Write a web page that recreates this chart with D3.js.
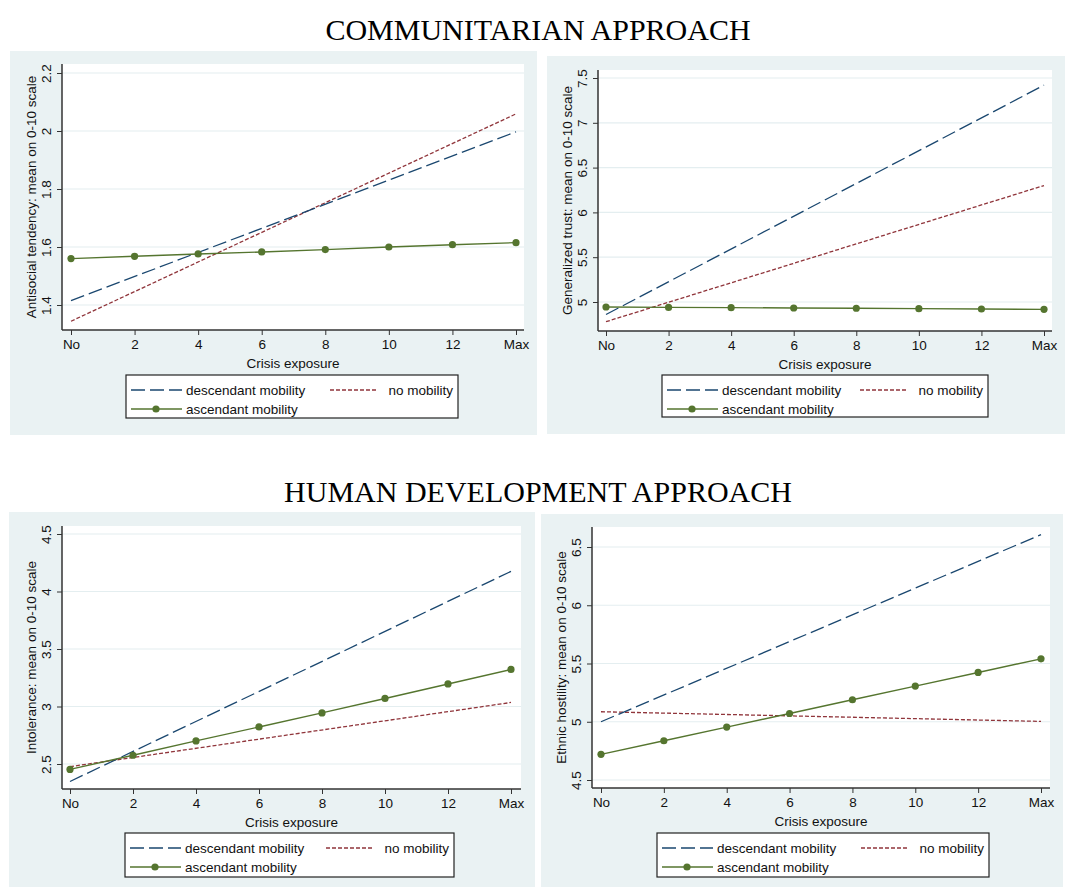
<!DOCTYPE html>
<html>
<head>
<meta charset="utf-8">
<script src="https://cdn.jsdelivr.net/npm/d3@7"></script>
<style>
  body { margin: 0; background: #fff; }
  svg text { font-family: "Liberation Sans", Arial, sans-serif; }
</style>
</head>
<body>
<div id="chart"></div>
<script>
// x axis: crisis exposure (No = 0, Max = 14)
const xValues = [0, 2, 4, 6, 8, 10, 12, 14];
const xTickLabels = ["No", "2", "4", "6", "8", "10", "12", "Max"];

const seriesNames = ["descendant mobility", "no mobility", "ascendant mobility"];

// top-left: antisocial tendency
const antisocialDesc = [1.415, 1.997];
const antisocialNone = [1.344, 2.059];
const antisocialAsc = [1.560, 1.568, 1.576, 1.583, 1.591, 1.600, 1.608, 1.615];
const antisocialTicks = [1.4, 1.6, 1.8, 2.0, 2.2];

// top-right: generalized trust
const trustDesc = [4.86, 7.42];
const trustNone = [4.78, 6.30];
const trustAsc = [4.944, 4.940, 4.937, 4.933, 4.930, 4.926, 4.922, 4.918];
const trustTicks = [5, 5.5, 6, 6.5, 7, 7.5];

// bottom-left: intolerance
const intolDesc = [2.348, 4.175];
const intolNone = [2.477, 3.035];
const intolAsc = [2.453, 2.576, 2.701, 2.822, 2.944, 3.070, 3.196, 3.322];
const intolTicks = [2.5, 3, 3.5, 4, 4.5];

// bottom-right: ethnic hostility
const ethnicDesc = [5.00, 6.606];
const ethnicNone = [5.086, 5.003];
const ethnicAsc = [4.720, 4.837, 4.954, 5.071, 5.189, 5.306, 5.423, 5.540];
const ethnicTicks = [4.5, 5, 5.5, 6, 6.5];

const colors = { desc: "#1a476f", none: "#90353b", asc: "#55752f" };
const fs = "13.5px";

const panels = [
  { title: "Antisocial tendency: mean on 0-10 scale", desc: antisocialDesc, none: antisocialNone, asc: antisocialAsc, ticks: antisocialTicks,
    bg: [10, 51, 537, 435], plot: [62, 64, 524, 330], xr: [71, 516], yAnchor: [1.4, 2.2], yr: [305, 73], legend: [126, 375, 458, 418] },
  { title: "Generalized trust: mean on 0-10 scale", desc: trustDesc, none: trustNone, asc: trustAsc, ticks: trustTicks,
    bg: [547, 56, 1065, 434], plot: [598, 70, 1052, 331], xr: [606, 1044], yAnchor: [5, 7.5], yr: [302, 78], legend: [662, 375, 988, 417] },
  { title: "Intolerance: mean on 0-10 scale", desc: intolDesc, none: intolNone, asc: intolAsc, ticks: intolTicks,
    bg: [9, 512, 535, 887], plot: [62, 526, 521, 789], xr: [70, 511], yAnchor: [2.5, 4.5], yr: [764, 534], legend: [125, 833, 454, 877] },
  { title: "Ethnic hostility: mean on 0-10 scale", desc: ethnicDesc, none: ethnicNone, asc: ethnicAsc, ticks: ethnicTicks,
    bg: [541, 514, 1063, 887], plot: [592, 527, 1050, 788], xr: [601, 1041], yAnchor: [4.5, 6.5], yr: [780, 547], legend: [657, 833, 989, 877] }
];

const svg = d3.select("#chart").append("svg")
  .attr("width", 1069)
  .attr("height", 888);

// section titles
svg.append("text")
  .attr("x", 538).attr("y", 40)
  .attr("text-anchor", "middle")
  .style("font-family", "'Liberation Serif', 'Times New Roman', serif")
  .style("font-size", "30px")
  .text("COMMUNITARIAN APPROACH");

svg.append("text")
  .attr("x", 538).attr("y", 502)
  .attr("text-anchor", "middle")
  .style("font-family", "'Liberation Serif', 'Times New Roman', serif")
  .style("font-size", "30px")
  .text("HUMAN DEVELOPMENT APPROACH");

panels.forEach(p => {
  const [bx0, by0, bx1, by1] = p.bg;
  const [px0, py0, px1, py1] = p.plot;

  svg.append("rect")
    .attr("x", bx0).attr("y", by0)
    .attr("width", bx1 - bx0).attr("height", by1 - by0)
    .attr("fill", "#eaf2f3");

  svg.append("rect")
    .attr("x", px0).attr("y", py0)
    .attr("width", px1 - px0).attr("height", py1 - py0)
    .attr("fill", "#fff");

  const x = d3.scaleLinear().domain([0, 14]).range(p.xr);
  const y = d3.scaleLinear().domain(p.yAnchor).range(p.yr);

  // grid lines
  svg.append("g")
    .selectAll("line")
    .data(p.ticks)
    .join("line")
    .attr("x1", px0).attr("x2", px1)
    .attr("y1", d => y(d)).attr("y2", d => y(d))
    .attr("stroke", "#e4eef0")
    .attr("stroke-width", 1.2);

  // x axis
  const gx = svg.append("g")
    .attr("transform", `translate(0,${py1})`)
    .call(d3.axisBottom(x)
      .tickValues(xValues)
      .tickFormat((d, i) => xTickLabels[i])
      .tickSize(5)
      .tickSizeOuter(0));
  gx.select(".domain").attr("d", `M${px0},0H${px1}`).attr("stroke", "#333").attr("stroke-width", 1.5);
  gx.selectAll(".tick line").attr("stroke", "#333");
  gx.selectAll(".tick text")
    .attr("y", 9)
    .style("font-family", "'Liberation Sans', Arial, sans-serif")
    .style("font-size", fs)
    .attr("fill", "#111");

  svg.append("text")
    .attr("x", (px0 + px1) / 2)
    .attr("y", py1 + 38)
    .attr("text-anchor", "middle")
    .style("font-size", fs)
    .attr("fill", "#111")
    .text("Crisis exposure");

  // y axis
  const gy = svg.append("g")
    .attr("transform", `translate(${px0},0)`)
    .call(d3.axisLeft(y)
      .tickValues(p.ticks)
      .tickFormat(d3.format("~g"))
      .tickSize(5)
      .tickSizeOuter(0));
  gy.select(".domain").attr("d", `M0,${py0}V${py1}`).attr("stroke", "#333").attr("stroke-width", 1.5);
  gy.selectAll(".tick line").attr("stroke", "#333");
  gy.selectAll(".tick text")
    .attr("x", null).attr("dy", null)
    .attr("text-anchor", "middle")
    .attr("transform", "translate(-11,0) rotate(-90)")
    .style("font-family", "'Liberation Sans', Arial, sans-serif")
    .style("font-size", fs)
    .attr("fill", "#111");

  svg.append("text")
    .attr("transform", `translate(${px0 - 26},${(py0 + py1) / 2}) rotate(-90)`)
    .attr("text-anchor", "middle")
    .style("font-size", fs)
    .attr("fill", "#111")
    .text(p.title);

  // lines
  const line = d3.line().x(d => x(d[0])).y(d => y(d[1]));
  const g = svg.append("g").attr("fill", "none");

  g.append("path")
    .attr("d", line([[0, p.none[0]], [14, p.none[1]]]))
    .attr("stroke", colors.none)
    .attr("stroke-width", 1.3)
    .attr("stroke-dasharray", "4,2");

  g.append("path")
    .attr("d", line([[0, p.desc[0]], [14, p.desc[1]]]))
    .attr("stroke", colors.desc)
    .attr("stroke-width", 1.3)
    .attr("stroke-dasharray", "14,5");

  const ascPts = xValues.map((v, i) => [v, p.asc[i]]);
  g.append("path")
    .attr("d", line(ascPts))
    .attr("stroke", colors.asc)
    .attr("stroke-width", 1.4);

  svg.append("g")
    .selectAll("circle")
    .data(ascPts)
    .join("circle")
    .attr("cx", d => x(d[0]))
    .attr("cy", d => y(d[1]))
    .attr("r", 3.6)
    .attr("fill", colors.asc);

  // legend
  const [lx0, ly0, lx1, ly1] = p.legend;
  const lg = svg.append("g");
  lg.append("rect")
    .attr("x", lx0).attr("y", ly0)
    .attr("width", lx1 - lx0).attr("height", ly1 - ly0)
    .attr("fill", "#fff")
    .attr("stroke", "#222")
    .attr("stroke-width", 1.2);

  const r1 = ly0 + 15, r2 = ly0 + 34;
  lg.append("line")
    .attr("x1", lx0 + 5).attr("x2", lx0 + 56)
    .attr("y1", r1).attr("y2", r1)
    .attr("stroke", colors.desc).attr("stroke-width", 1.3)
    .attr("stroke-dasharray", "14,5");
  lg.append("text")
    .attr("x", lx0 + 60).attr("y", r1).attr("dy", "0.35em")
    .style("font-size", fs).attr("fill", "#111")
    .text(seriesNames[0]);

  lg.append("line")
    .attr("x1", lx1 - 128).attr("x2", lx1 - 80)
    .attr("y1", r1).attr("y2", r1)
    .attr("stroke", colors.none).attr("stroke-width", 1.3)
    .attr("stroke-dasharray", "4,2");
  lg.append("text")
    .attr("x", lx1 - 5).attr("y", r1).attr("dy", "0.35em")
    .attr("text-anchor", "end")
    .style("font-size", fs).attr("fill", "#111")
    .text(seriesNames[1]);

  lg.append("line")
    .attr("x1", lx0 + 5).attr("x2", lx0 + 56)
    .attr("y1", r2).attr("y2", r2)
    .attr("stroke", colors.asc).attr("stroke-width", 1.4);
  lg.append("circle")
    .attr("cx", lx0 + 30).attr("cy", r2).attr("r", 3.6)
    .attr("fill", colors.asc);
  lg.append("text")
    .attr("x", lx0 + 60).attr("y", r2).attr("dy", "0.35em")
    .style("font-size", fs).attr("fill", "#111")
    .text(seriesNames[2]);
});
</script>
</body>
</html>
